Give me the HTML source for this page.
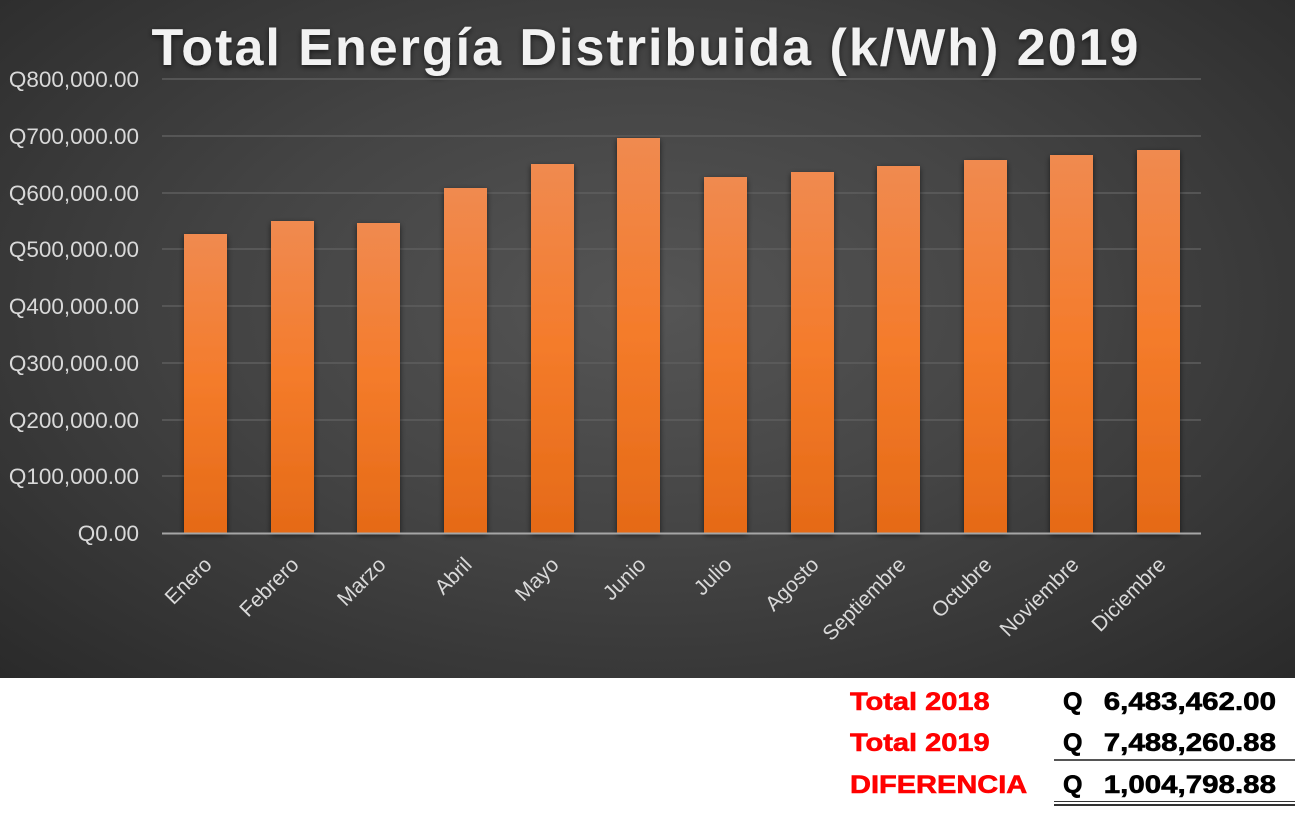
<!DOCTYPE html>
<html><head><meta charset="utf-8"><style>
body{margin:0;width:1298px;height:818px;background:#fff;position:relative;overflow:hidden;font-family:"Liberation Sans",sans-serif}
#c{position:absolute;left:0;top:0;width:1295px;height:678px;background:radial-gradient(ellipse at 50% 45%,#555 0%,#444 45%,#2a2a2a 100%)}
.t{position:absolute;font-weight:bold;font-size:25px;top:688px;-webkit-text-stroke:0.6px currentColor}
.r{color:#f00;transform-origin:left top;transform:scaleX(1.16)}
.k{color:#000}
.n{transform-origin:right top;transform:scaleX(1.18)}
</style></head><body>
<div id="c">
<svg width="1295" height="678" style="position:absolute;left:0;top:0">
<defs><linearGradient id="g" x1="0" y1="0" x2="0" y2="1"><stop offset="0" stop-color="#f08a50"/><stop offset="0.5" stop-color="#f47b2a"/><stop offset="1" stop-color="#e56a17"/></linearGradient>
<filter id="s"><feDropShadow dx="0" dy="2" stdDeviation="3" flood-color="#000" flood-opacity="0.6"/></filter></defs>
<text x="646" y="65" text-anchor="middle" font-family="Liberation Sans" font-weight="bold" font-size="52" letter-spacing="2" fill="#f2f2f2" filter="url(#s)">Total Energía Distribuida (k/Wh) 2019</text>
<g stroke="#5e5e5e" stroke-width="1.5">
<line x1="162" x2="1201" y1="79" y2="79"/><line x1="162" x2="1201" y1="136" y2="136"/><line x1="162" x2="1201" y1="193" y2="193"/><line x1="162" x2="1201" y1="249" y2="249"/><line x1="162" x2="1201" y1="306" y2="306"/><line x1="162" x2="1201" y1="363" y2="363"/><line x1="162" x2="1201" y1="420" y2="420"/><line x1="162" x2="1201" y1="476" y2="476"/>
</g>
<g font-family="Liberation Sans" font-size="22.5" fill="#d9d9d9" text-anchor="end">
<text x="139" y="87">Q800,000.00</text><text x="139" y="144">Q700,000.00</text><text x="139" y="201">Q600,000.00</text><text x="139" y="257">Q500,000.00</text><text x="139" y="314">Q400,000.00</text><text x="139" y="371">Q300,000.00</text><text x="139" y="428">Q200,000.00</text><text x="139" y="484">Q100,000.00</text><text x="139" y="541">Q0.00</text>
</g>
<g fill="url(#g)" filter="url(#s)">
<rect x="184" y="234" width="43" height="299"/><rect x="271" y="221" width="43" height="312"/><rect x="357" y="223" width="43" height="310"/><rect x="444" y="188" width="43" height="345"/><rect x="531" y="164" width="43" height="369"/><rect x="617" y="138" width="43" height="395"/><rect x="704" y="177" width="43" height="356"/><rect x="791" y="172" width="43" height="361"/><rect x="877" y="166" width="43" height="367"/><rect x="964" y="160" width="43" height="373"/><rect x="1050" y="155" width="43" height="378"/><rect x="1137" y="150" width="43" height="383"/>
</g>
<line x1="162" x2="1201" y1="533.5" y2="533.5" stroke="#a6a6a6" stroke-width="2"/>
<g font-family="Liberation Sans" font-size="21" fill="#d9d9d9" text-anchor="end">
<text transform="translate(213,566) rotate(-45)">Enero</text>
<text transform="translate(300,566) rotate(-45)">Febrero</text>
<text transform="translate(387,566) rotate(-45)">Marzo</text>
<text transform="translate(473,566) rotate(-45)">Abril</text>
<text transform="translate(560,566) rotate(-45)">Mayo</text>
<text transform="translate(647,566) rotate(-45)">Junio</text>
<text transform="translate(733,566) rotate(-45)">Julio</text>
<text transform="translate(820,566) rotate(-45)">Agosto</text>
<text transform="translate(907,566) rotate(-45)">Septiembre</text>
<text transform="translate(993,566) rotate(-45)">Octubre</text>
<text transform="translate(1080,566) rotate(-45)">Noviembre</text>
<text transform="translate(1167,566) rotate(-45)">Diciembre</text>
</g>
</svg>
</div>
<div class="t r" style="left:850px;top:688px">Total 2018</div>
<div class="t r" style="left:850px;top:729px">Total 2019</div>
<div class="t r" style="left:850px;top:771px">DIFERENCIA</div>
<div class="t k" style="left:1063px;top:688px">Q</div>
<div class="t k" style="left:1063px;top:729px">Q</div>
<div class="t k" style="left:1063px;top:771px">Q</div>
<div class="t k n" style="right:22px;top:688px">6,483,462.00</div>
<div class="t k n" style="right:22px;top:729px">7,488,260.88</div>
<div class="t k n" style="right:22px;top:771px">1,004,798.88</div>
<div style="position:absolute;left:1054px;width:241px;top:759px;height:2px;background:#555"></div>
<div style="position:absolute;left:1054px;width:241px;top:801px;height:1px;background:#333"></div>
<div style="position:absolute;left:1054px;width:241px;top:804px;height:2px;background:#333"></div>
</body></html>
